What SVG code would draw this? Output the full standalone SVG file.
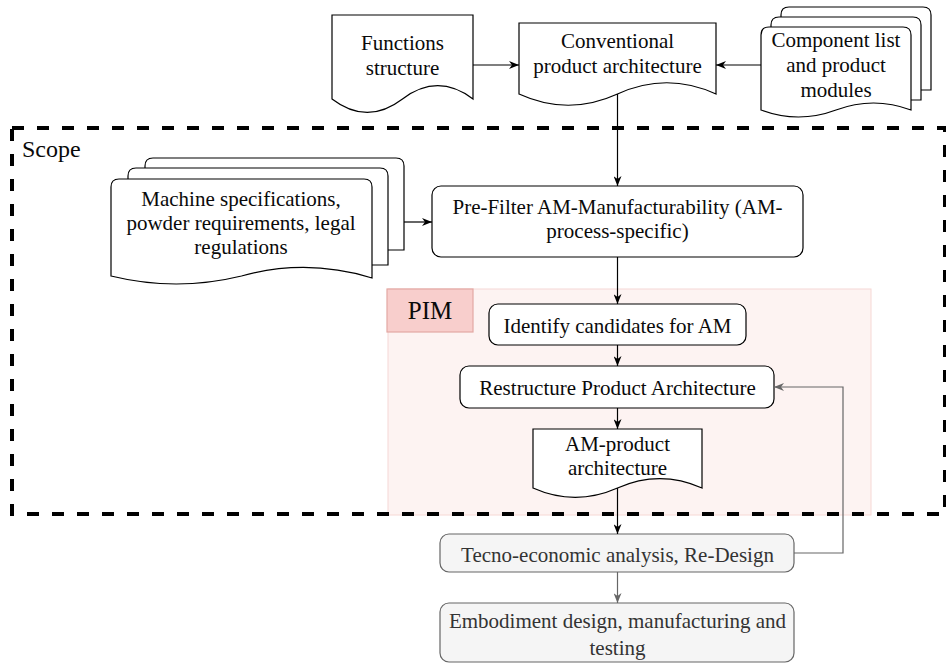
<svg xmlns="http://www.w3.org/2000/svg" width="946" height="664" viewBox="0 0 946 664">
<style>
.t{font-family:"Liberation Serif",serif;font-size:21px;text-anchor:middle}
.bk{fill:#0a0a0a}
.lbl{font-size:25px}
.shape{fill:#fff;stroke:#000;stroke-width:1.2}
.gray{fill:#f5f5f5;stroke:#666;stroke-width:1.2}
.gt{fill:#333}
.edge{fill:none;stroke:#000;stroke-width:1.2}
.gedge{fill:none;stroke:#666;stroke-width:1.2}
</style>
<defs>
<marker id="ah" viewBox="0 0 10 8" refX="10" refY="4" markerWidth="10" markerHeight="8" markerUnits="userSpaceOnUse" orient="auto">
<path d="M0,0 L10,4 L0,8 L3,4 z" fill="#000"/>
</marker>
<marker id="ahg" viewBox="0 0 10 8" refX="10" refY="4" markerWidth="10" markerHeight="8" markerUnits="userSpaceOnUse" orient="auto">
<path d="M0,0 L10,4 L0,8 L3,4 z" fill="#666"/>
</marker>
</defs>
<rect width="946" height="664" fill="#fff"/>

<g id="pim">
<rect x="388" y="289" width="483" height="226" fill="#fdf3f2" stroke="#f6d8d5" stroke-width="1"/>
<rect x="387" y="289" width="86" height="43" fill="#f8cecc" stroke="#e3a8a3" stroke-width="1.2"/>
<text class="t lbl bk" x="430" y="319">PIM</text>
</g>

<g id="scope">
<rect x="12" y="128" width="933" height="386" fill="none" stroke="#000" stroke-width="4" stroke-dasharray="12 13"/>
<text class="t lbl bk" x="22" y="157" style="text-anchor:start;font-size:24px">Scope</text>
</g>

<g id="functions">
<path class="shape" d="M332,15 H473 V99 Q437.75,72.4 402.5,99 Q367.25,125.9 332,99 Z"/>
<text class="t bk" x="402.5" y="50">Functions</text>
<text class="t bk" x="402.5" y="75">structure</text>
</g>

<g id="conventional">
<path class="shape" d="M519,23 H716 V94 Q666.75,71.5 617.5,94 Q568.25,116.5 519,94 Z"/>
<text class="t bk" x="617.5" y="48">Conventional</text>
<text class="t bk" x="617.5" y="73">product architecture</text>
</g>

<g id="components">
<path class="shape" d="M781,15 Q781,7 789,7 H923 Q931,7 931,15 V90 H781 Z"/>
<path class="shape" d="M771,25 Q771,17 779,17 H913 Q921,17 921,25 V100 H771 Z"/>
<path class="shape" d="M761,35 Q761,27 769,27 H903 Q911,27 911,35 V110 Q873.5,96 836,110 Q798.5,124 761,110 Z"/>
<text class="t bk" x="836" y="47">Component list</text>
<text class="t bk" x="836" y="72">and product</text>
<text class="t bk" x="836" y="97">modules</text>
</g>

<g id="machine">
<path class="shape" d="M145,166 Q145,158 153,158 H396 Q404,158 404,166 V250 H145 Z"/>
<path class="shape" d="M128,176 Q128,168 136,168 H380 Q388,168 388,176 V265 H128 Z"/>
<path class="shape" d="M111,187 Q111,179 119,179 H364 Q372,179 372,187 V278 Q306.75,258 241.5,276 Q176.25,292 111,276 Z"/>
<text class="t bk" x="241" y="206">Machine specifications,</text>
<text class="t bk" x="241" y="230">powder requirements, legal</text>
<text class="t bk" x="241" y="254">regulations</text>
</g>

<g id="prefilter">
<rect class="shape" x="432" y="186" width="371" height="71" rx="9"/>
<text class="t bk" x="617.5" y="214">Pre-Filter AM-Manufacturability (AM-</text>
<text class="t bk" x="617.5" y="238">process-specific)</text>
</g>

<g id="identify">
<rect class="shape" x="489" y="304" width="257" height="41" rx="9"/>
<text class="t bk" x="617.5" y="333">Identify candidates for AM</text>
</g>

<g id="restructure">
<rect class="shape" x="460" y="366" width="314" height="42" rx="9"/>
<text class="t bk" x="617.5" y="395">Restructure Product Architecture</text>
</g>

<g id="amproduct">
<path class="shape" d="M533,429 H702 V488 Q659.75,469.3 617.5,488 Q575.25,506.7 533,488 Z"/>
<text class="t bk" x="617.5" y="451">AM-product</text>
<text class="t bk" x="617.5" y="475">architecture</text>
</g>

<g id="tecno">
<rect class="gray" x="440" y="534" width="354" height="38" rx="9"/>
<text class="t gt" x="617.5" y="562">Tecno-economic analysis, Re-Design</text>
</g>

<g id="embodiment">
<rect class="gray" x="440" y="603" width="354" height="59" rx="9"/>
<text class="t gt" x="617.5" y="628">Embodiment design, manufacturing and</text>
<text class="t gt" x="617.5" y="655">testing</text>
</g>

<g id="connectors">
<line class="edge" x1="473" y1="65" x2="519" y2="65" marker-end="url(#ah)"/>
<line class="edge" x1="761" y1="65" x2="716" y2="65" marker-end="url(#ah)"/>
<line class="edge" x1="617.5" y1="94" x2="617.5" y2="186" marker-end="url(#ah)"/>
<line class="edge" x1="404" y1="222" x2="432" y2="222" marker-end="url(#ah)"/>
<line class="edge" x1="617.5" y1="257" x2="617.5" y2="304" marker-end="url(#ah)"/>
<line class="edge" x1="617.5" y1="345" x2="617.5" y2="366" marker-end="url(#ah)"/>
<line class="edge" x1="617.5" y1="408" x2="617.5" y2="429" marker-end="url(#ah)"/>
<line class="edge" x1="617.5" y1="488" x2="617.5" y2="534" marker-end="url(#ah)"/>
<line class="gedge" x1="617.5" y1="572" x2="617.5" y2="603" marker-end="url(#ahg)"/>
<polyline class="gedge" points="794,553 843,553 843,387 774,387" marker-end="url(#ahg)"/>
</g>
</svg>
